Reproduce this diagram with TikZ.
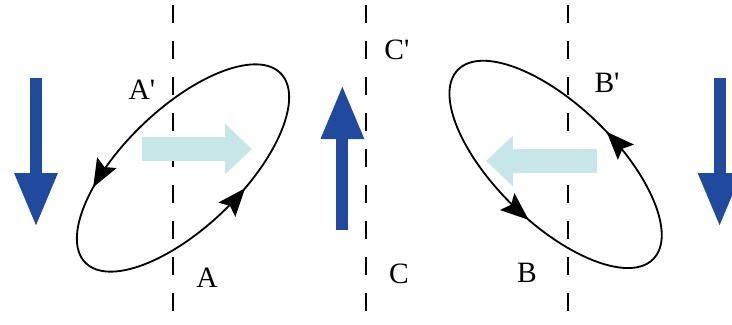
\documentclass[tikz,border=0pt]{standalone}
\usepackage{fontspec}
\setmainfont{Liberation Serif}
\usepackage{xcolor}
\usepackage{tikz}
\usetikzlibrary{arrows.meta, decorations.markings, positioning}

\definecolor{flowblue}{RGB}{31,74,158}
\definecolor{driftcyan}{RGB}{199,230,232}

\begin{document}
\begin{tikzpicture}[
    orbit/.style 2 args={line width=1.3pt, postaction={decorate}, decoration={markings,
        mark=at position #1 with {\arrow{Stealth[length=7mm, width=5.5mm, inset=1.2mm]}},
        mark=at position #2 with {\arrow{Stealth[length=7mm, width=5.5mm, inset=1.2mm]}}}},
    bigarrow/.style={flowblue, line width=3mm, -{Triangle[length=13.5mm, width=10mm]}},
    drift/.style={driftcyan, line width=6mm, -{Triangle[length=6.75mm, width=12.25mm]}},
    cutline/.style={line width=1.4pt, dash pattern=on 12.8pt off 12.8pt},
    lbl/.style={anchor=base, font=\fontsize{21}{25}\selectfont}
]
    \useasboundingbox (0,0) rectangle (18.3,8.1);

    % Dashed cut lines
    \foreach \x in {4.32, 9.15, 14.2} {
        \draw[cutline] (\x,7.97) -- (\x,0.15);
    }

    % Loops
    \coordinate (loopA) at (4.575,3.9);
    \coordinate (loopB) at (13.89,3.99);
    \draw[orbit={0.374}{0.798}, rotate around={44:(loopA)}] (loopA) ellipse (3.4cm and 1.48cm);
    \draw[orbit={0.228}{0.78}, rotate around={-44:(loopB)}] (loopB) ellipse (3.4cm and 1.48cm);

    % Drift arrows
    \draw[drift] (3.55,4.375) -- (6.3,4.375);
    \draw[drift] (14.925,4.075) -- (12.15,4.075);

    % Blue arrows
    \draw[bigarrow] (0.9,6.15) -- (0.9,2.425);
    \draw[bigarrow] (8.56,2.35) -- (8.56,5.975);
    \draw[bigarrow] (17.99,6.15) -- (17.99,2.425);

    % Labels
    \node[lbl] (Ap) at (3.55,5.625) {A\textquotesingle};
    \node[lbl] (A) at (5.175,0.925) {A};
    \node[lbl] (Cp) at (9.925,6.61) {C\textquotesingle};
    \node[lbl] (C) at (9.975,1.025) {C};
    \node[lbl] (Bp) at (15.175,5.8) {B\textquotesingle};
    \node[lbl] (B) at (13.175,1.05) {B};
\end{tikzpicture}
\end{document}
